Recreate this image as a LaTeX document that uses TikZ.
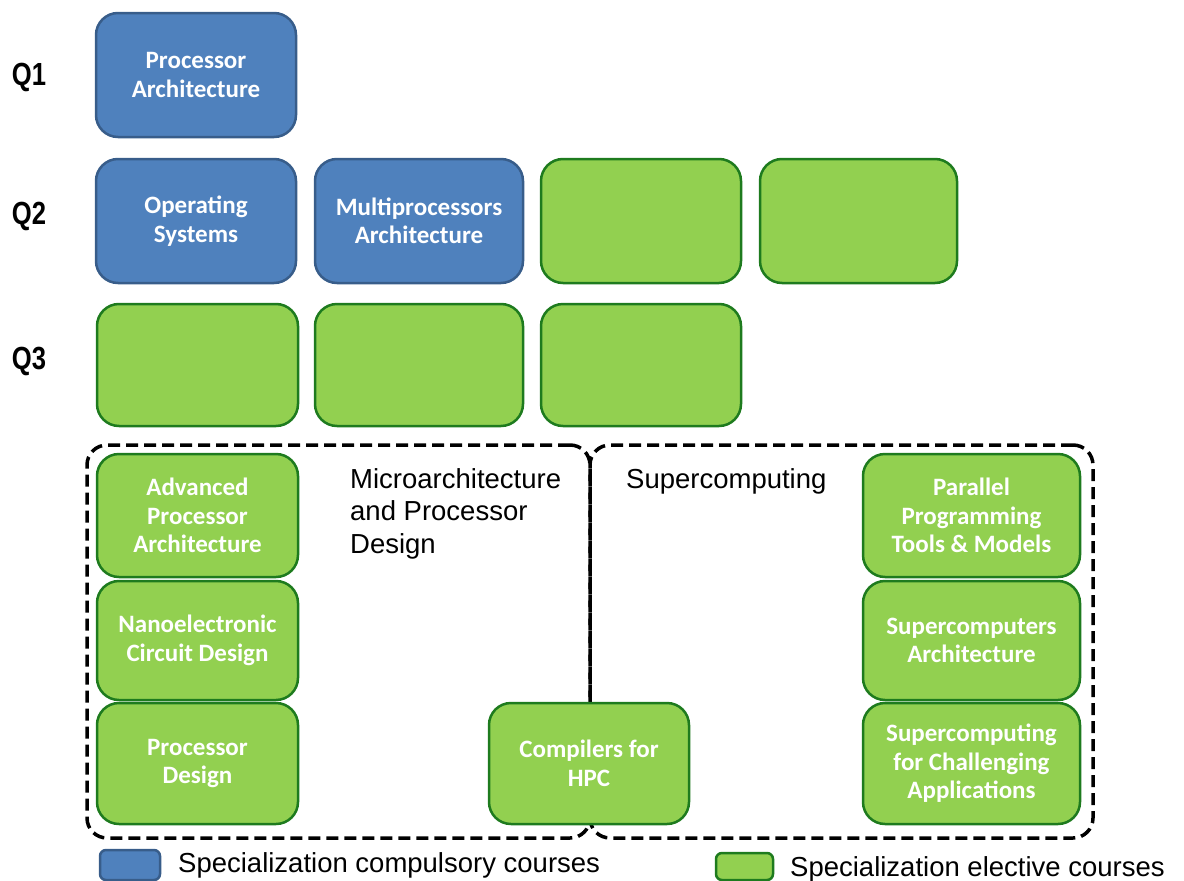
\documentclass[tikz,border=0pt]{standalone}
\usepackage{fontspec}
\setmainfont{Liberation Sans}
\newfontfamily\boxfont{Carlito}
\usetikzlibrary{positioning}
\definecolor{cblue}{HTML}{4F81BD}
\definecolor{cblueb}{HTML}{385D8A}
\definecolor{cgreen}{HTML}{92D050}
\definecolor{cgreenb}{HTML}{1E7B1E}
\tikzset{
  course/.style={rounded corners=22pt, line width=2.5pt, inner sep=0pt,
    font=\boxfont\bfseries\fontsize{25}{28.5}\selectfont, text=white, align=center},
  bluebox/.style={course, fill=cblue, draw=cblueb},
  greenbox/.style={course, fill=cgreen, draw=cgreenb},
  region/.style={draw=black, line width=3.5pt, dash pattern=on 12pt off 6pt,
    rounded corners=20pt, inner sep=0pt},
  qlabel/.style={font=\bfseries\fontsize{32}{36}\selectfont, inner sep=0pt},
  rlabel/.style={font=\fontsize{27.5}{32.5}\selectfont, inner sep=0pt, align=left},
  legbox/.style={rounded corners=6pt, line width=2.5pt, inner sep=0pt},
  legtext/.style={font=\fontsize{27.5}{32}\selectfont, inner sep=0pt}
}
\newcommand{\cbox}[7]{%
  \node[#2, minimum width={#5-#3}, minimum height={#6-#4}]
    (#1) at ({(#3+#5)/2},{(#4+#6)/2}) {#7};}
\begin{document}
\begin{tikzpicture}[x=1pt,y=-1pt]
\useasboundingbox (0,0) rectangle (1184,881);
% regions
\node[region, minimum width=503, minimum height=393] (micro) at (338.5,641.5) {};
\node[region, minimum width=503, minimum height=393] (super) at (841.5,641.5) {};
% Q labels
\node[qlabel] (q1) at (29,77) {\scalebox{0.8}[1]{Q1}};
\node[qlabel] (q2) at (29,216) {\scalebox{0.8}[1]{Q2}};
\node[qlabel] (q3) at (29,361) {\scalebox{0.8}[1]{Q3}};
% Q1
\cbox{pa}{bluebox}{96}{13}{296}{137}{Processor\\Architecture}
% Q2
\cbox{os}{bluebox}{96}{159}{296}{283}{Operating\\Systems}
\cbox{mp}{bluebox}{315}{159}{523}{283}{Multiprocessors\\Architecture}
\cbox{e21}{greenbox}{541}{159}{741}{283}{}
\cbox{e22}{greenbox}{760}{159}{957}{283}{}
% Q3
\cbox{e31}{greenbox}{97}{304}{298}{426}{}
\cbox{e32}{greenbox}{315}{304}{523}{426}{}
\cbox{e33}{greenbox}{541}{304}{741}{426}{}
% left column
\cbox{apa}{greenbox}{97}{454}{298}{577}{Advanced\\Processor\\Architecture}
\cbox{ncd}{greenbox}{97}{581}{298}{700}{Nanoelectronic\\Circuit Design}
\cbox{pd}{greenbox}{97}{703}{298}{824}{Processor\\Design}
% compilers
\cbox{chpc}{greenbox}{489}{703}{689}{824}{Compilers for\\HPC}
% right column
\cbox{pptm}{greenbox}{863}{454}{1080}{577}{Parallel\\Programming\\Tools \& Models}
\cbox{sca}{greenbox}{863}{581}{1080}{700}{Supercomputers\\Architecture}
\cbox{scca}{greenbox}{863}{703}{1080}{824}{Supercomputing\\for Challenging\\Applications}
% region labels
\node[rlabel, anchor=north west] (mlabel) at (350,468) {Microarchitecture\\and Processor\\Design};
\node[rlabel, anchor=north west] (slabel) at (626,468) {Supercomputing};
% legend
\cbox{lb}{legbox, fill=cblue, draw=cblueb}{100}{850}{160}{880}{}
\node[legtext, anchor=base west] (lbt) at (178,872) {Specialization compulsory courses};
\cbox{lg}{legbox, fill=cgreen, draw=cgreenb}{716}{853}{773}{880}{}
\node[legtext, anchor=base west] (lgt) at (790,876) {Specialization elective courses};
\end{tikzpicture}
\end{document}
